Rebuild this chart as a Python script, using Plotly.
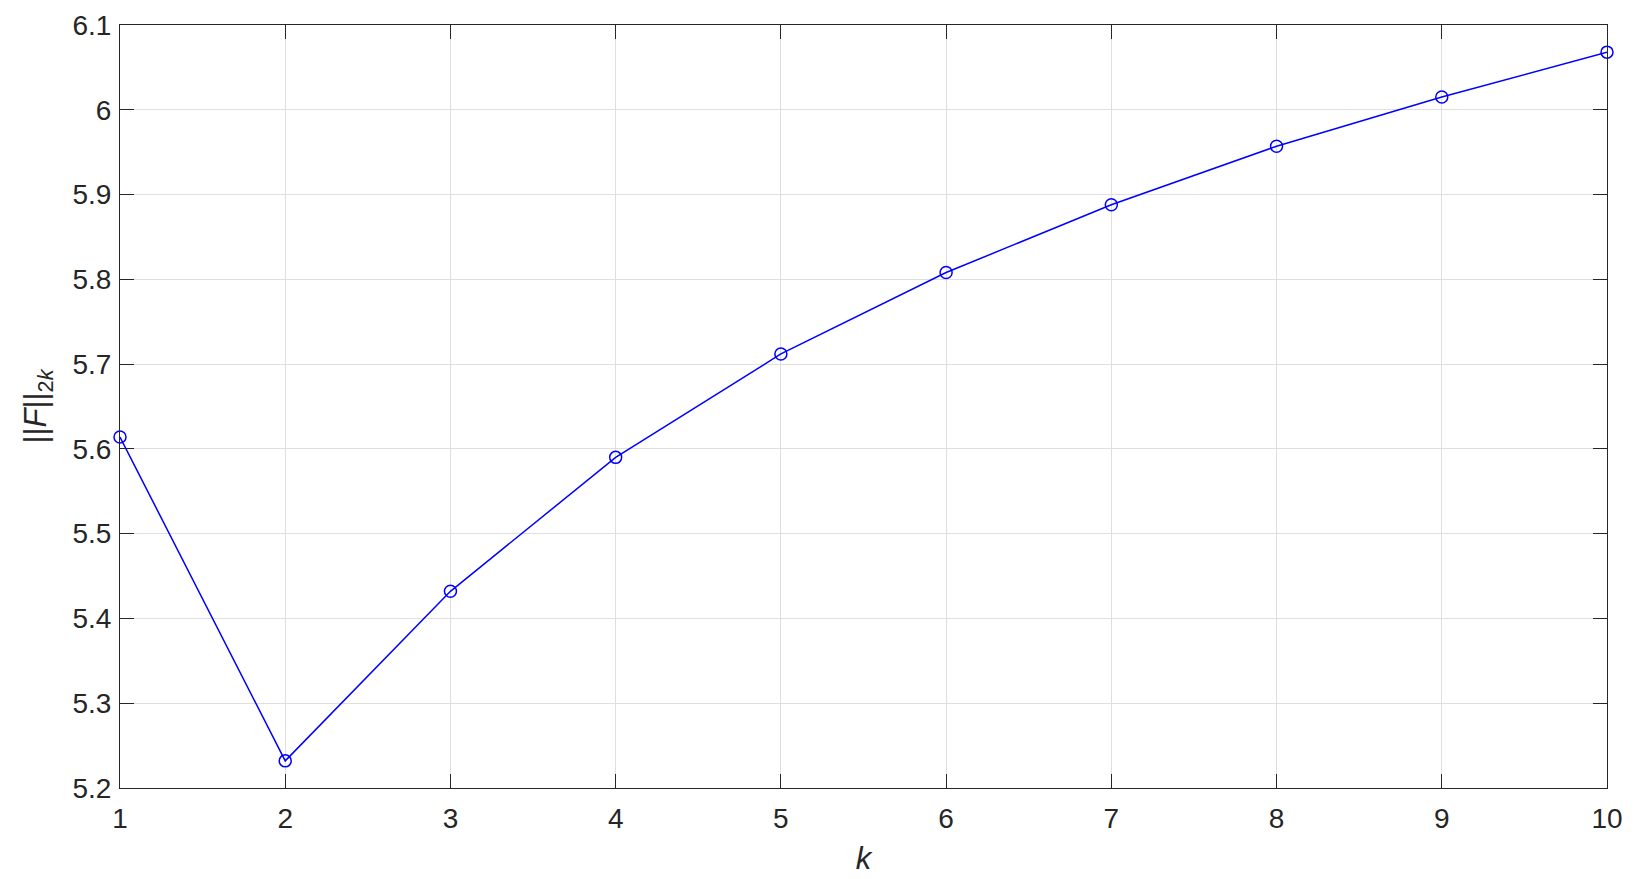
import plotly.graph_objects as go

k_values = [1, 2, 3, 4, 5, 6, 7, 8, 9, 10]
norm_values = [5.614, 5.232, 5.432, 5.590, 5.712, 5.808, 5.888, 5.957, 6.015, 6.068]

x_ticks = [1, 2, 3, 4, 5, 6, 7, 8, 9, 10]
y_ticks = [5.2, 5.3, 5.4, 5.5, 5.6, 5.7, 5.8, 5.9, 6.0, 6.1]
y_ticklabels = ["5.2", "5.3", "5.4", "5.5", "5.6", "5.7", "5.8", "5.9", "6", "6.1"]

axis_color = "#262626"
grid_color = "#dfdfdf"

fig = go.Figure()

fig.add_trace(go.Scatter(
    x=k_values,
    y=norm_values,
    mode="lines+markers",
    line=dict(color="#0000ff", width=1.5),
    marker=dict(symbol="circle-open", size=12, color="#0000ff", line=dict(width=1.5)),
    cliponaxis=False,
    showlegend=False
))

common_axis = dict(
    showline=True,
    linecolor=axis_color,
    linewidth=1,
    mirror="ticks",
    ticks="inside",
    ticklen=14,
    tickwidth=1,
    tickcolor=axis_color,
    showgrid=True,
    gridcolor=grid_color,
    gridwidth=1,
    zeroline=False,
    automargin=False,
    tickfont=dict(size=28, color=axis_color),
)

fig.update_xaxes(
    range=[1, 10],
    tickvals=x_ticks,
    ticklabelstandoff=5,
    title=dict(text="<i>k</i>", font=dict(size=31, color=axis_color), standoff=14),
    **common_axis
)

fig.update_yaxes(
    range=[5.2, 6.1],
    tickvals=y_ticks,
    ticktext=y_ticklabels,
    ticklabelstandoff=2,
    title=dict(text="||<i>F</i>||<sub>2<i>k</i></sub>", font=dict(size=31, color=axis_color), standoff=16),
    **common_axis
)

# page body has an 8px margin, so the figure is a bit smaller than the window
fig.update_layout(
    width=1632,
    height=871,
    margin=dict(l=112, r=33, t=17, b=91),
    plot_bgcolor="white",
    paper_bgcolor="white",
    font=dict(family="Liberation Sans, Arial, sans-serif", color=axis_color),
)

fig.write_html("out.html")
